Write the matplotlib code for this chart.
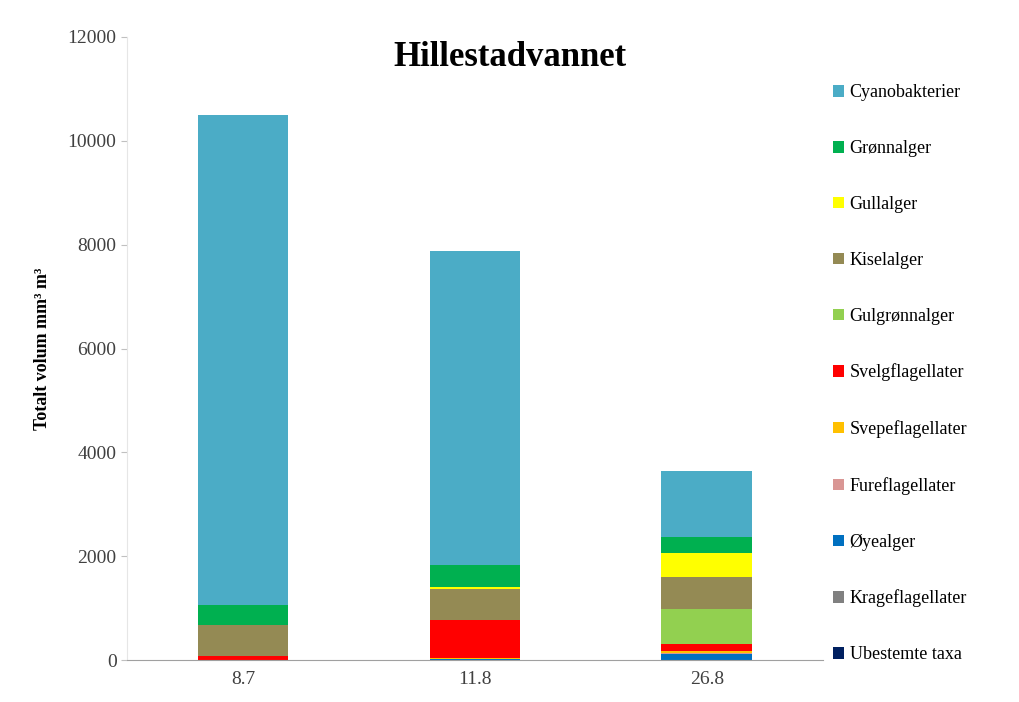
import matplotlib.pyplot as plt
import numpy as np

plt.rcParams['font.family'] = ['Liberation Serif', 'DejaVu Serif']

# temperatur / kategorier
categories = ['8.7', '11.8', '26.8']

# stablet nedenfra og opp
groups = ['Ubestemte taxa', 'Krageflagellater', 'Øyealger', 'Fureflagellater',
          'Svepeflagellater', 'Svelgflagellater', 'Gulgrønnalger', 'Kiselalger',
          'Gullalger', 'Grønnalger', 'Cyanobakterier']
ubestemte = [0, 0, 0]
krage = [0, 0, 0]
oyealger = [0, 25, 120]
fure = [0, 0, 20]
svepe = [0, 15, 30]
svelg = [80, 730, 140]
gulgronn = [0, 0, 670]
kisel = [595, 600, 620]
gull = [0, 40, 460]
gronn = [390, 420, 310]
cyano = [9440, 6040, 1270]

colors = ['#002060', '#808080', '#0070C0', '#D99694', '#FFC000', '#FF0000',
          '#92D050', '#948A54', '#FFFF00', '#00B050', '#4BACC6']

series = [ubestemte, krage, oyealger, fure, svepe, svelg, gulgronn, kisel, gull, gronn, cyano]

fig = plt.figure(figsize=(10.2, 7.02), dpi=100)
ax = fig.add_axes([0.1245, 0.0598, 0.682, 0.8875])

x = np.arange(len(categories))
bottom = np.zeros(len(categories))
handles = []
for name, vals, col in zip(groups, series, colors):
    b = ax.bar(x, vals, 0.39, bottom=bottom, color=col, label=name)
    handles.append(b)
    bottom += np.array(vals)

ax.set_xlim(-0.5, 2.5)
ax.set_ylim(0, 12000)
ax.set_yticks(range(0, 12001, 2000))
ax.set_xticks(x)
ax.set_xticklabels(categories)
ax.tick_params(axis='both', labelsize=14, colors='#404040')
ax.tick_params(axis='x', length=0, pad=8)
ax.tick_params(axis='y', length=4, color='#c0c0c0')
for s in ['top', 'right']:
    ax.spines[s].set_visible(False)
ax.spines['left'].set_color('#e6e6e6')
ax.spines['bottom'].set_color('#a0a0a0')
ax.set_ylabel('Totalt volum mm³ m³', fontsize=13, fontweight='bold', labelpad=12)

fig.text(0.50, 0.918, 'Hillestadvannet', fontsize=25, fontweight='bold', ha='center', va='center')

fig.legend(handles[::-1], groups[::-1], loc='upper left', bbox_to_anchor=(0.81, 0.89),
           frameon=False, fontsize=13, labelspacing=2.15, handlelength=0.6,
           handleheight=0.6, handletextpad=0.3, borderaxespad=0)

fig.savefig('out.png', dpi=100)
